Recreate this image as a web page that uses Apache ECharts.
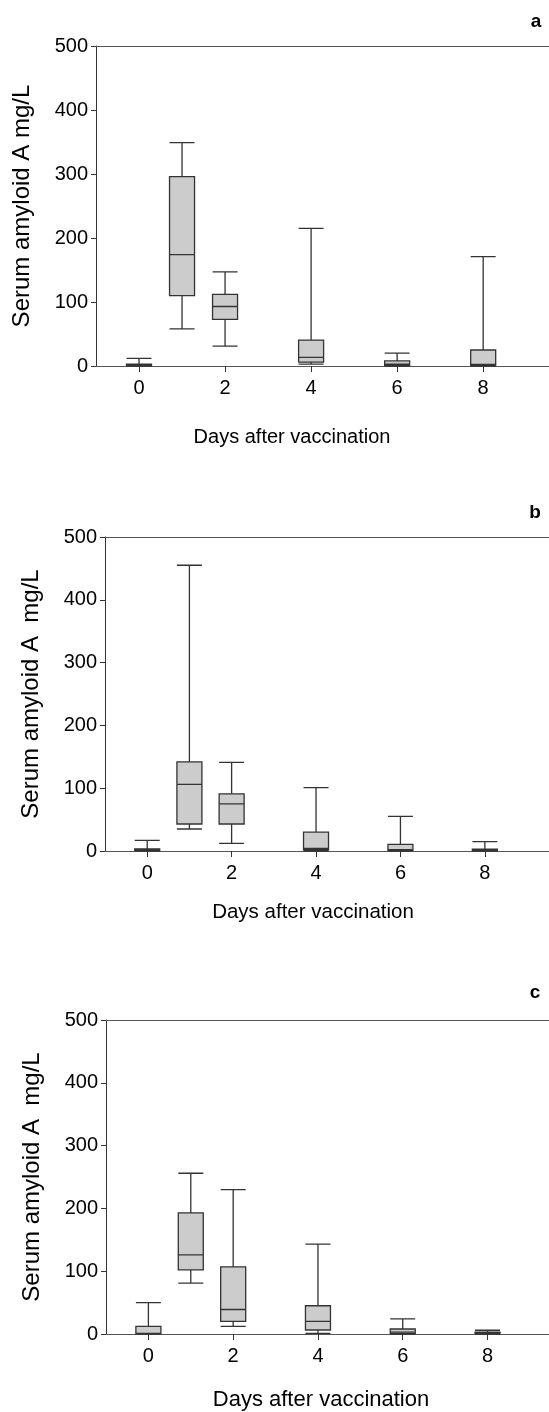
<!DOCTYPE html>
<html style="height: 100%">
<head>
<meta charset="utf-8">
</head>
<body style="height: 100%; margin: 0">
<div id="container" style="width: 549px; height: 1412px"></div>
<script src="https://cdn.jsdelivr.net/npm/echarts@6/dist/echarts.min.js"></script>
<script type="text/javascript">

// days at which each box sits
var days = [0, 1, 2, 4, 6, 8];
var dayTicks = [0, 2, 4, 6, 8];
var panelNames = ['a', 'b', 'c'];
var yTitles = ['Serum amyloid A mg/L', 'Serum amyloid A  mg/L', 'Serum amyloid A  mg/L'];
var xTitle = 'Days after vaccination';

// [min, Q1, median, Q3, max] per day
var boxesA = [[0, 0.5, 2, 3, 12], [58, 110, 174, 296, 349], [31, 73, 93, 112, 147], [3, 6, 13.5, 40.5, 215], [0, 1, 3, 8, 20], [0, 1, 2.5, 25, 171]];
var boxesB = [[0, 1, 2, 3.5, 17], [35, 43, 106, 142, 455], [12, 43, 75, 91, 141], [0, 2, 4, 30, 101], [0, 1, 2, 10.6, 55], [0, 1, 2, 3, 15]];
var boxesC = [[0, 0, 1, 12, 50], [81, 102, 126, 193, 256], [12, 20, 39, 107, 230], [1, 6.4, 20, 45, 143], [0, 0.5, 3, 8, 24], [0, 1, 2, 3, 6]];

var dom = document.getElementById('container');
var myChart = echarts.init(dom);

var font = 'Liberation Sans';
// the plots run to the right edge of the page, as in the figure
var grids = [
    {left: 96, top: 46, height: 320, right: 0},
    {left: 105, top: 537, height: 314, right: 0},
    {left: 106, top: 1020, height: 314, right: 0}
];
var xMax = [9.53, 9.52, 9.45];
var xTitlePos = [[292, 437, 20], [313, 912, 20.5], [321, 1400, 22]];
var letterPos = [[536, 22], [535, 513], [535, 993]];

function withDays(boxes) {
    return boxes.map(function (b, i) { return [days[i]].concat(b); });
}
var allBoxes = [boxesA, boxesB, boxesC];

var xAxes = [];
grids.forEach(function (g, i) {
    xAxes.push({
        type: 'value', gridIndex: i, min: -1, max: xMax[i],
        axisLine: {show: true, onZero: false, lineStyle: {color: '#555', width: 1}},
        axisTick: {show: true, length: 6, customValues: dayTicks, lineStyle: {color: '#333'}},
        axisLabel: {customValues: dayTicks, fontSize: 20, color: '#000', fontFamily: font, margin: 12},
        splitLine: {show: false}
    });
});
// top frame line
grids.forEach(function (g, i) {
    xAxes.push({
        type: 'value', gridIndex: i, position: 'top', min: -1, max: xMax[i],
        axisLine: {show: true, onZero: false, lineStyle: {color: '#555', width: 1}},
        axisTick: {show: false}, axisLabel: {show: false}, splitLine: {show: false}
    });
});

var option = {
    animation: false,
    backgroundColor: '#fff',
    grid: grids,
    xAxis: xAxes,
    yAxis: grids.map(function (g, i) {
        return {
            type: 'value', gridIndex: i, min: 0, max: 500, interval: 100,
            name: yTitles[i], nameLocation: 'middle', nameGap: 62,
            nameTextStyle: {fontSize: 24, color: '#000', fontFamily: font},
            axisLine: {show: true, onZero: false, lineStyle: {color: '#333', width: 1}},
            axisTick: {show: true, length: 5, lineStyle: {color: '#333'}},
            axisLabel: {fontSize: 20, color: '#000', fontFamily: font, margin: 8},
            splitLine: {show: false}
        };
    }),
    series: allBoxes.map(function (boxes, i) {
        return {
            type: 'boxplot', xAxisIndex: i, yAxisIndex: i,
            boxWidth: [25, 25],
            itemStyle: {color: '#cccccc', borderColor: '#333', borderWidth: 1.3},
            data: withDays(boxes)
        };
    }),
    graphic: []
};

for (var i = 0; i < 3; i++) {
    option.graphic.push({
        type: 'text', x: xTitlePos[i][0], y: xTitlePos[i][1],
        style: {text: xTitle, font: xTitlePos[i][2] + 'px "Liberation Sans"', fill: '#000', align: 'center', verticalAlign: 'middle'}
    });
    option.graphic.push({
        type: 'text', x: letterPos[i][0], y: letterPos[i][1],
        style: {text: panelNames[i], font: 'bold 19px "Liberation Sans"', fill: '#000', align: 'center', verticalAlign: 'middle'}
    });
}

myChart.setOption(option);
</script>
</body>
</html>
